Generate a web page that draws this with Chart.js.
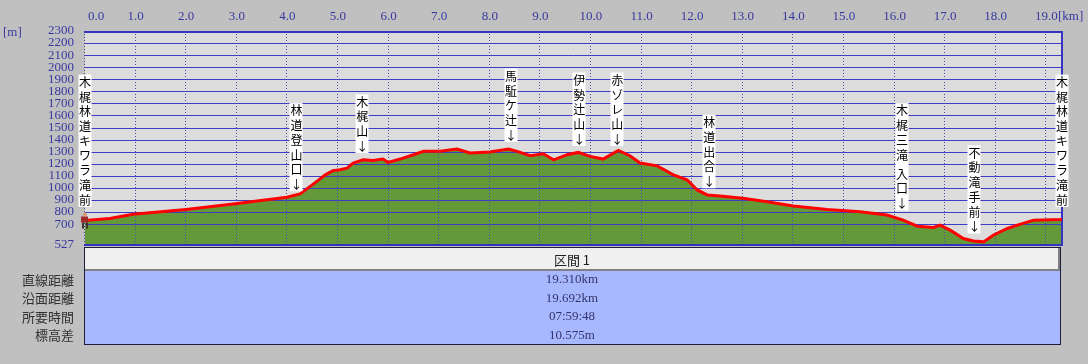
<!DOCTYPE html>
<html><head><meta charset="utf-8">
<script src="https://cdn.jsdelivr.net/npm/chart.js@4"></script>
<style>html,body{margin:0;padding:0;background:#c0c0c0;}canvas{display:block;}</style>
</head><body>
<canvas id="c" width="1088" height="364"></canvas>
<script>
// ---- data ----
const distKm = [0.00,0.06,0.49,0.95,2.00,2.93,3.99,4.25,4.55,4.75,4.90,5.04,5.18,5.30,5.50,5.69,5.89,5.99,6.23,6.49,6.69,7.02,7.35,7.61,8.00,8.37,8.54,8.80,9.06,9.26,9.53,9.75,9.98,10.24,10.54,10.77,10.97,11.31,11.63,11.90,12.10,12.30,12.55,13.00,13.48,14.00,14.67,15.32,15.85,16.17,16.45,16.77,16.90,17.10,17.36,17.56,17.76,17.95,18.23,18.49,18.75,19.28,19.31];
const elevM  = [738,733,747,781,822,867,922,950,1044,1108,1142,1150,1164,1206,1233,1228,1239,1211,1239,1275,1303,1303,1322,1289,1297,1322,1303,1267,1283,1233,1275,1294,1261,1239,1311,1267,1206,1183,1108,1067,983,942,933,914,886,850,822,803,775,733,683,672,692,650,581,561,553,608,664,700,733,739,740];
const xTicks = [0,1,2,3,4,5,6,7,8,9,10,11,12,13,14,15,16,17,18,19];
const yTicks = [527,700,800,900,1000,1100,1200,1300,1400,1500,1600,1700,1800,1900,2000,2100,2200,2300];
const labelText  = ['木梶林道キワラ滝前','林道登山口','木梶山','馬駈ケ辻','伊勢辻山','赤ゾレ山','林道出合','木梶三滝 入口','不動滝手前','木梶林道キワラ滝前'];
const labelKm    = [0, 4.18, 5.48, 8.42, 9.77, 10.52, 12.34, 16.15, 17.58, 19.31];
const labelElev  = [738, 917, 1233, 1325, 1292, 1292, 942, 758, 567, 738];
const labelArrow = [false,true,true,true,true,true,true,true,true,false];
const sectionTitle = '区間 1';
const rowLabels = ['直線距離','沿面距離','所要時間','標高差'];
const rowValues = ['19.310km','19.692km','07:59:48','10.575m'];

const pts = distKm.map((x,i)=>({x:x, y:elevM[i]}));
const numFont = '13px "Liberation Serif"';
const blueText = '#3838a0';

const plug = {
  id:'prof',
  beforeDraw(chart){
    const {ctx, chartArea:a} = chart;
    ctx.save();
    ctx.fillStyle='#c0c0c0'; ctx.fillRect(0,0,chart.width,chart.height);
    ctx.fillStyle='#dcdcdc'; ctx.fillRect(a.left,a.top,a.right-a.left,a.bottom-a.top);
    ctx.restore();
  },
  afterDatasetDraw(chart,args){
    if(args.index!==1) return;
    const {ctx, chartArea:a, scales:{x,y}} = chart;
    ctx.save();
    ctx.lineWidth=1; ctx.strokeStyle='#3c3cc8';
    yTicks.forEach(v=>{
      if(v===527||v===2300) return;
      const py=Math.round(y.getPixelForValue(v))+0.5;
      ctx.beginPath(); ctx.moveTo(a.left,py); ctx.lineTo(a.right,py); ctx.stroke();
    });
    ctx.setLineDash([1,2]); ctx.strokeStyle='#4c4ca0';
    xTicks.forEach(v=>{
      const px=Math.round(x.getPixelForValue(v))-0.5;
      ctx.beginPath(); ctx.moveTo(px,a.top); ctx.lineTo(px,a.bottom); ctx.stroke();
    });
    ctx.setLineDash([]);
    ctx.lineWidth=2; ctx.strokeStyle='#3434c0';
    ctx.beginPath(); ctx.moveTo(a.left-1,a.top+1); ctx.lineTo(a.right+1,a.top+1); ctx.stroke();
    ctx.beginPath(); ctx.moveTo(a.left-1,a.bottom); ctx.lineTo(a.right+1,a.bottom); ctx.stroke();
    ctx.beginPath(); ctx.moveTo(a.right,a.top); ctx.lineTo(a.right,a.bottom); ctx.stroke();
    ctx.restore();
  },
  afterDraw(chart){
    const {ctx, chartArea:a, scales:{x,y}} = chart;
    ctx.save();
    // top axis labels
    ctx.font=numFont; ctx.fillStyle=blueText; ctx.textBaseline='middle';
    xTicks.forEach((v,i)=>{
      const px=x.getPixelForValue(v);
      if(i===0){ctx.textAlign='left'; ctx.fillText(v.toFixed(1),a.left+3,17);}
      else {ctx.textAlign='center'; ctx.fillText(v.toFixed(1),px,17);}
    });
    ctx.textAlign='left';
    ctx.fillText('[km]',1058,17);
    ctx.fillText('[m]',3,33);

    // waypoint labels
    ctx.font='12px "Noto Sans CJK JP"';
    ctx.textAlign='center'; ctx.textBaseline='middle';
    labelText.forEach((t,i)=>{
      const px=x.getPixelForValue(labelKm[i]);
      const py=y.getPixelForValue(labelElev[i]);
      const items=[...t]; if(labelArrow[i]) items.push('↓');
      const h=items.map(c=>c===' '?4.5:14.7);
      const centers=[];
      let cy = labelArrow[i] ? py-14 : py-20;
      centers[items.length-1]=cy;
      for(let k=items.length-2;k>=0;k--){ cy -= (h[k]+h[k+1])/2; centers[k]=cy; }
      const top=centers[0]-h[0]/2, bot=centers[items.length-1]+h[items.length-1]/2;
      ctx.fillStyle='#ffffff';
      ctx.fillRect(Math.round(px)-6.5,top,13,bot-top);
      ctx.fillStyle='#000000';
      items.forEach((c,k)=>{ if(c!==' ') ctx.fillText(c,px,centers[k]+0.5); });
    });

    // hiker at start
    const hx=x.getPixelForValue(distKm[0]), hy=y.getPixelForValue(elevM[0]);
    ctx.fillStyle='#d89870'; ctx.beginPath(); ctx.arc(hx,hy-5,2,0,Math.PI*2); ctx.fill();
    ctx.fillStyle='#a02828'; ctx.fillRect(hx-4,hy-3,7,6);
    ctx.fillStyle='#403428'; ctx.fillRect(hx-3,hy+3,2,6); ctx.fillRect(hx+1,hy+3,2,6);

    // table
    ctx.fillStyle='#f0f0f0'; ctx.fillRect(85,248,975,22);
    ctx.fillStyle='#808080'; ctx.fillRect(85,269,975,2); ctx.fillRect(1058,248,2,23);
    ctx.fillStyle='#a8b8ff'; ctx.fillRect(85,271,975,73);
    ctx.strokeStyle='#1c1c3c'; ctx.lineWidth=1; ctx.strokeRect(84.5,247.5,976,97);
    const cx=572;
    ctx.textAlign='center'; ctx.textBaseline='middle';
    ctx.font='13px "Noto Sans CJK JP"'; ctx.fillStyle='#202020';
    ctx.fillText(sectionTitle,cx,260);
    const rowY=[280,298.5,317,335.5];
    rowLabels.forEach((t,i)=>{
      ctx.textAlign='right'; ctx.font='13px "Noto Sans CJK JP"'; ctx.fillStyle='#303030';
      ctx.fillText(t,74,rowY[i]);
      ctx.textAlign='center'; ctx.font=numFont; ctx.fillStyle='#34346c';
      ctx.fillText(rowValues[i],cx,rowY[i]);
    });
    ctx.restore();
  }
};

new Chart(document.getElementById('c'),{
  type:'line',
  data:{datasets:[
    {data:pts, borderColor:'#ff0000', borderWidth:3, pointRadius:0, fill:false, tension:0, order:0},
    {data:pts, borderColor:'rgba(0,0,0,0)', borderWidth:0, backgroundColor:'#639939', pointRadius:0, fill:'start', tension:0, order:1}
  ]},
  options:{
    responsive:false, animation:false, devicePixelRatio:1,
    layout:{padding:{left:0,right:26,top:0,bottom:119}},
    plugins:{legend:{display:false}, tooltip:{enabled:false}},
    scales:{
      x:{type:'linear', position:'top', min:0, max:19.31,
         grid:{display:false, drawTicks:false}, border:{display:false},
         ticks:{display:false},
         afterBuildTicks(s){ s.ticks=xTicks.map(v=>({value:v})); },
         afterFit(s){ s.height=31; }},
      y:{type:'linear', min:527, max:2300,
         grid:{display:false, drawTicks:false}, border:{display:false},
         ticks:{color:blueText, font:{family:'Liberation Serif', size:13}, padding:11, autoSkip:false, callback:v=>String(v)},
         afterBuildTicks(s){ s.ticks=yTicks.map(v=>({value:v})); },
         afterFit(s){ s.width=85; }}
    }
  },
  plugins:[plug]
});
</script>
</body></html>
